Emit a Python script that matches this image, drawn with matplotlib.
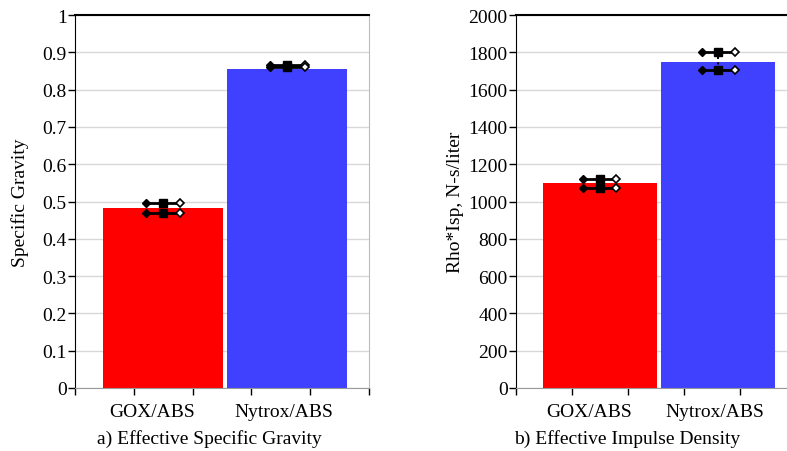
import numpy as np
import matplotlib.pyplot as plt

plt.rcParams['font.family'] = ['Liberation Serif', 'DejaVu Serif']
plt.rcParams['font.size'] = 14

categories = ['GOX/ABS', 'Nytrox/ABS']
colors = ['#ff0000', '#4040ff']

# a) effective specific gravity
sg_values = [0.482, 0.855]
sg_err_hi = [0.495, 0.865]
sg_err_lo = [0.470, 0.862]

# b) effective impulse density
rho_isp_values = [1100, 1750]
rho_isp_err_hi = [1120, 1800]
rho_isp_err_lo = [1072, 1703]

x = np.arange(len(categories))
bar_w = 0.97
cap_w = 0.14
x_lo, x_hi = -0.71, 1.66
label_pos = [-0.09, 0.97]


def draw_panel(ax, values, err_hi, err_lo, yticks, ylabel, xlabel, xlabel_x):
    ax.bar(x, values, width=bar_w, color=colors, zorder=2)
    for xi, hi, lo in zip(x, err_hi, err_lo):
        ax.plot([xi, xi], [lo, hi], ':', color='black', lw=1.5, zorder=3)
        for v in (hi, lo):
            ax.plot([xi - cap_w, xi + cap_w], [v, v], color='black', lw=2, zorder=3)
            ax.plot(xi - cap_w, v, 'D', color='black', ms=4, zorder=4)
            ax.plot(xi, v, 's', color='black', ms=6, zorder=4)
            ax.plot(xi + cap_w, v, 'D', mfc='white', mec='black', mew=1.2, ms=4, zorder=4)
    ax.set_xlim(x_lo, x_hi)
    ax.set_ylim(yticks[0], yticks[-1])
    ax.set_yticks(yticks)
    ax.yaxis.grid(True, color='#d8d8d8', lw=1, zorder=0)
    ax.set_axisbelow(True)
    ax.set_xticks(np.linspace(x_lo, x_hi, 6))
    ax.set_xticklabels([])
    ax.set_xticks(label_pos, minor=True)
    ax.set_xticklabels(categories, minor=True)
    ax.tick_params(axis='x', which='minor', length=0, pad=11)
    ax.tick_params(axis='x', which='major', length=5, width=1, direction='out')
    ax.tick_params(axis='y', length=5, width=1, pad=1)
    ax.spines['left'].set_color('black')
    ax.spines['top'].set_color('black')
    ax.spines['top'].set_linewidth(1.5)
    ax.spines['right'].set_color('#bbbbbb')
    ax.spines['bottom'].set_color('#999999')
    ax.set_ylabel(ylabel)
    ax.set_xlabel(xlabel)
    ax.xaxis.set_label_coords(xlabel_x, -0.11)


fig = plt.figure(figsize=(7.87, 4.52), dpi=100)
ax1 = fig.add_axes([0.0953, 0.1394, 0.3736, 0.825])
ax2 = fig.add_axes([0.6557, 0.1394, 0.3558, 0.825])

sg_ticks = np.round(np.arange(0, 1.01, 0.1), 1)
draw_panel(ax1, sg_values, sg_err_hi, sg_err_lo, sg_ticks,
           'Specific Gravity', 'a) Effective Specific Gravity', 0.457)
ax1.set_yticklabels(['0' if t == 0 else ('1' if t == 1 else f'{t:g}') for t in sg_ticks])

draw_panel(ax2, rho_isp_values, rho_isp_err_hi, rho_isp_err_lo, np.arange(0, 2001, 200),
           'Rho*Isp, N-s/liter', 'b) Effective Impulse Density', 0.396)

ax1.yaxis.set_label_coords(-0.155, 0.5)
ax2.yaxis.set_label_coords(-0.185, 0.5)

fig.savefig('out.png', dpi=100)
